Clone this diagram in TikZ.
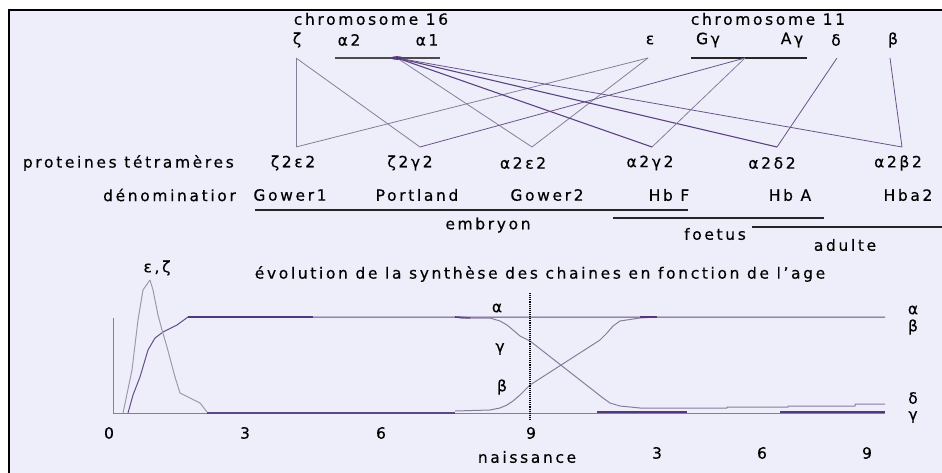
\documentclass[tikz,border=0pt]{standalone}
\usepackage{fontspec}
\setmainfont{DejaVu Sans}[LetterSpace=17, FakeBold=0.4]
\definecolor{bgc}{RGB}{238,238,250}
\definecolor{lnc}{RGB}{135,125,155}
\definecolor{dkc}{RGB}{85,55,125}
\tikzset{
  lbl/.style={font=\fontsize{15.5}{17}\selectfont, inner sep=0pt, text=black},
  gline/.style={draw=lnc, line width=0.8pt},
  gdark/.style={draw=dkc!85!lnc, line width=1.1pt},
  crv/.style={draw=lnc, line width=1pt, line join=round},
  crvdk/.style={draw=dkc, line width=2pt},
  bar/.style={draw=black!85, line width=1.1pt},
}
\begin{document}
\begin{tikzpicture}[x=1pt,y=-1pt]
\useasboundingbox (0,0) rectangle (942,473);
\fill[white] (0,0) rectangle (942,473);
\fill[bgc] (9,10) rectangle (942,473);
\draw[black, line width=1.5pt] (9,473) -- (9,10) -- (942,10);

% chromosome titles and gene labels
\node[lbl] (chr16) at (371,19) {chromosome 16};
\node[lbl] (chr11) at (768,19) {chromosome 11};
\node[lbl] (lz) at (297,40) {ζ};
\node[lbl] (la2) at (349,40) {α2};
\node[lbl] (la1) at (427,40) {α1};
\node[lbl] (le) at (650,40) {ε};
\node[lbl] (lGg) at (708,40) {Gγ};
\node[lbl] (lAg) at (792,40) {Aγ};
\node[lbl] (ld) at (836,40) {δ};
\node[lbl] (lb) at (893,40) {β};

% gene bars
\coordinate (abarL) at (335,58); \coordinate (abarR) at (440,58);
\coordinate (gbarL) at (691,58); \coordinate (gbarR) at (807,58);
\draw[bar, draw=black!70] (abarL) -- (abarR);
\draw[bar] (gbarL) -- (gbarR);

% gene points
\coordinate (gz) at (296,58);
\coordinate (ga) at (397,58);
\coordinate (ge) at (648,58);
\coordinate (gg) at (745,58);
\coordinate (gd) at (837,58);
\coordinate (gb) at (890,58);
% protein points
\coordinate (pze) at (296,147);
\coordinate (pzg) at (420,147);
\coordinate (pae) at (532,147);
\coordinate (pag) at (652,147);
\coordinate (pad) at (777,147);
\coordinate (pab) at (902,147);

\draw[gline] (gz) -- (pze);
\draw[gline] (gz) -- (pzg);
\draw[gline] (ge) -- (pze);
\draw[gline] (ge) -- (pae);
\draw[gline] (ga) -- (pae);
\draw[gdark] (ga) -- (pag);
\draw[gdark] (ga) -- (pad);
\draw[gline, draw=dkc!60!lnc] (ga) -- (pab);
\draw[gline, draw=dkc!60!lnc] (gg) -- (pzg);
\draw[gline] (gg) -- (pag);
\draw[gline, draw=dkc!60!lnc] (gd) -- (pad);
\draw[gline, draw=dkc!60!lnc] (gb) -- (pab);
\fill[dkc] (ga) ellipse (6pt and 1.8pt);

% protein row
\node[lbl, anchor=east] (prot) at (234,163) {proteines tétramères};
\node[lbl] (nze) at (293,163) {ζ2ε2};
\node[lbl] (nzg) at (410,163) {ζ2γ2};
\node[lbl] (nae) at (523,163) {α2ε2};
\node[lbl] (nag) at (650,163) {α2γ2};
\node[lbl] (nad) at (772,163) {α2δ2};
\node[lbl] (nab) at (898,163) {α2β2};

% names row
\node[lbl, anchor=east] (denom) at (236,195) {dénominatior};
\node[lbl] (gow1) at (290,195) {Gower1};
\node[lbl] (port) at (417,195) {Portland};
\node[lbl] (gow2) at (547,195) {Gower2};
\node[lbl] (hbf) at (669,195) {Hb F};
\node[lbl] (hba) at (790,195) {Hb A};
\node[lbl] (hba2) at (908,195) {Hba2};

% periods
\coordinate (emL) at (255,210); \coordinate (emR) at (688,210);
\coordinate (foL) at (613,218); \coordinate (foR) at (824,218);
\coordinate (adL) at (752,227); \coordinate (adR) at (942,227);
\draw[bar] (emL) -- (emR);
\draw[bar] (foL) -- (foR);
\draw[bar] (adL) -- (adR);
\node[lbl] (embr) at (488,225) {embryon};
\node[lbl] (foet) at (715,234) {foetus};
\node[lbl] (adul) at (845,245) {adulte};

% graph
\node[lbl] (title) at (540,274) {évolution de la synthèse des chaines en fonction de l’age};
\node[lbl] (ez) at (157,268) {ε,ζ};

\draw[crv] (113,318) -- (113,413);
\draw[crv] (113,413) -- (885,413);
% alpha
\draw[crv, draw=dkc!70!lnc] (128,413) -- (133,395) -- (140,377) -- (148,350) -- (155,338) -- (163,332) -- (177,325) -- (188,317) -- (885,317);
\draw[crvdk] (188,317) -- (313,317);
% epsilon, zeta
\draw[crv, draw=lnc!80] (123,413) -- (132,370) -- (138,320) -- (143,290) -- (150,280);
\draw[crv, draw=lnc!80] (150,280) -- (153,290) -- (158,315) -- (162,330) -- (167,347) -- (175,377) -- (180,393) -- (190,398) -- (200,403) -- (207,412);
\draw[crvdk, draw=dkc!80!lnc] (207,413) -- (455,413);
% gamma
\draw[crvdk, line width=1.6pt] (455,317) -- (470,318);
\draw[crv] (460,318) -- (490,318) -- (500,321) -- (507,325) -- (513,330) -- (520,336) -- (530,341) -- (603,398) -- (610,403) -- (620,406) -- (640,408) -- (727,408) -- (727,407) -- (788,407) -- (788,406) -- (855,406) -- (855,404) -- (885,404);
% beta
\draw[crv] (455,411) -- (490,410) -- (500,408) -- (507,405) -- (513,401) -- (520,395) -- (530,385) -- (600,340) -- (607,333) -- (613,326) -- (620,321) -- (640,318) -- (657,317);
\draw[crvdk, line width=1.6pt] (640,317) -- (657,317);
% bottom thick segments
\draw[crvdk, line width=1.6pt] (597,412) -- (687,412);
\draw[crvdk, line width=1.6pt] (780,412) -- (885,412);
% birth line
\coordinate (bT) at (530,293); \coordinate (bB) at (530,420);
\draw[black, densely dotted, line width=1.1pt] (bT) -- (bB);

\node[lbl] (ta) at (497,308) {α};
\node[lbl] (tg) at (500,349) {γ};
\node[lbl] (tb) at (502,387) {β};
\node[lbl] (ra) at (913,310) {α};
\node[lbl] (rb) at (913,327) {β};
\node[lbl] (rd) at (913,398) {δ};
\node[lbl] (rg) at (913,417) {γ};

\node[lbl] (x0) at (109,433) {0};
\node[lbl] (x3) at (245,433) {3};
\node[lbl] (x6) at (381,433) {6};
\node[lbl] (x9) at (531,433) {9};
\node[lbl] (nais) at (527,457) {naissance};
\node[lbl] (y3) at (657,453) {3};
\node[lbl] (y6) at (762,453) {6};
\node[lbl] (y9) at (867,453) {9};
\end{tikzpicture}
\end{document}
